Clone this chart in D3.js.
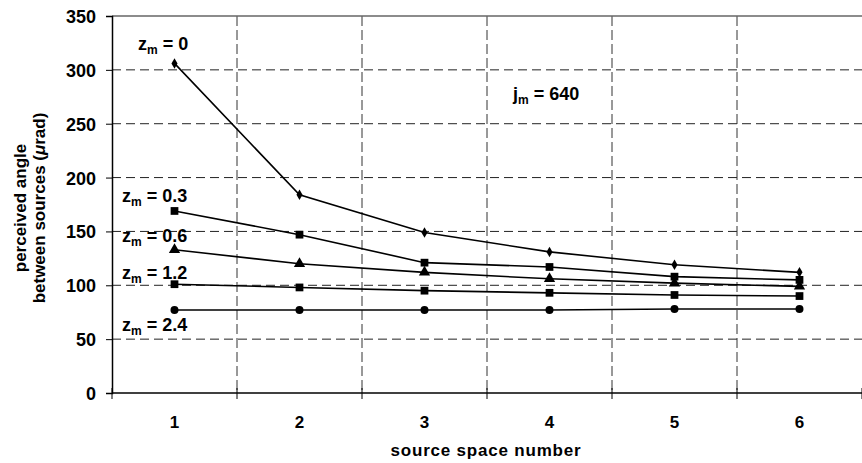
<!DOCTYPE html>
<html>
<head>
<meta charset="utf-8">
<script src="https://cdn.jsdelivr.net/npm/d3@7"></script>
<style>
  body { margin: 0; background: #fff; }
  text { font-family: "Liberation Sans", Arial, sans-serif; font-weight: bold; fill: #000; }
</style>
</head>
<body>
<svg id="chart" width="862" height="463"></svg>
<script>
// source space number categories
let spaces = [1, 2, 3, 4, 5, 6];
let yTicks = [0, 50, 100, 150, 200, 250, 300, 350];

// perceived angle (μrad) per z_m
let z0   = [306, 184, 149, 131, 119, 112];
let z03  = [169, 147, 121, 117, 108, 105];
let z06  = [133, 120, 112, 106, 102,  99];
let z12  = [101,  98,  95,  93,  91,  90];
let z24  = [ 77,  77,  77,  77,  78,  78];

let seriesNames = ["0", "0.3", "0.6", "1.2", "2.4"];
let seriesVals  = [z0, z03, z06, z12, z24];
let seriesMark  = ["diamond", "square", "triangle", "square", "circle"];

let chart = d3.select("#chart");
let plotL = 112, plotR = 862, plotT = 16, plotB = 393;

let xScale = d3.scaleBand()
    .domain(spaces)
    .range([plotL, plotR]);

let yScale = d3.scaleLinear()
    .domain([0, 350])
    .range([plotB, plotT]);

// horizontal grid
chart.append("g")
    .selectAll("line")
    .data(yTicks.filter(d => d > 0 && d < 350)).enter()
    .append("line")
        .attr("x1", plotL).attr("x2", plotR)
        .attr("y1", d => yScale(d)).attr("y2", d => yScale(d))
        .attr("stroke", "#222")
        .attr("stroke-dasharray", "9,5");

// vertical grid at category boundaries
chart.append("g")
    .selectAll("line")
    .data(spaces.slice(1)).enter()
    .append("line")
        .attr("x1", d => xScale(d)).attr("x2", d => xScale(d))
        .attr("y1", plotT).attr("y2", plotB)
        .attr("stroke", "#333")
        .attr("stroke-dasharray", "10,4");

// top border
chart.append("line")
    .attr("x1", plotL).attr("x2", plotR)
    .attr("y1", yScale(350)).attr("y2", yScale(350))
    .attr("stroke", "#666").attr("stroke-width", 1.5);

// y axis
let yAxis = chart.append("g")
    .attr("transform", "translate(" + plotL + ",0)")
    .call(d3.axisLeft(yScale).tickValues(yTicks).tickSize(6).tickPadding(10));
yAxis.selectAll("text").style("font-size", "18px").attr("dy", "0.36em");
yAxis.select(".domain").attr("stroke-width", 1.5);

// x axis
let xAxis = chart.append("g")
    .attr("transform", "translate(0," + plotB + ")");
xAxis.append("line")
    .attr("x1", plotL).attr("x2", plotR)
    .attr("stroke", "#000").attr("stroke-width", 1.5);
xAxis.selectAll(".tk")
    .data(spaces.concat([7])).enter()
    .append("line")
        .attr("x1", (d, i) => plotL + i * xScale.bandwidth())
        .attr("x2", (d, i) => plotL + i * xScale.bandwidth())
        .attr("y1", -5).attr("y2", 6)
        .attr("stroke", "#000");
xAxis.selectAll(".lbl")
    .data(spaces).enter()
    .append("text")
        .attr("x", d => xScale(d) + xScale.bandwidth() / 2)
        .attr("y", 35)
        .style("font-size", "17px")
        .style("text-anchor", "middle")
        .text(d => d);

// axis titles
chart.append("text")
    .text("source space number")
    .attr("x", (plotL + plotR) / 2 - 1)
    .attr("y", 456)
    .style("text-anchor", "middle")
    .style("font-size", "17px")
    .style("letter-spacing", "0.8px");

let yt = chart.append("text")
    .attr("transform", "translate(26,208) rotate(-90)")
    .style("text-anchor", "middle")
    .style("font-size", "17px");
yt.append("tspan").attr("x", 0).attr("dy", 0).text("perceived angle");
yt.append("tspan").attr("x", 0).attr("dy", 19).text("between sources (");
yt.append("tspan").style("font-style", "italic").text("μ");
yt.append("tspan").text("rad)");

// lines and markers
let line = d3.line()
    .x((d, i) => xScale(spaces[i]) + xScale.bandwidth() / 2)
    .y(d => yScale(d));

let symbolOf = {
    diamond: d3.symbol().type(d3.symbolDiamond).size(32),
    square: d3.symbol().type(d3.symbolSquare).size(60),
    triangle: d3.symbol().type(d3.symbolTriangle).size(55),
    circle: d3.symbol().type(d3.symbolCircle).size(50)
};

seriesVals.forEach((vals, s) => {
    chart.append("path")
        .datum(vals)
        .attr("d", line)
        .attr("fill", "none")
        .attr("stroke", "#000")
        .attr("stroke-width", 1.6);
    chart.selectAll(".m" + s)
        .data(vals).enter()
        .append("path")
            .attr("transform", (d, i) => "translate(" + (xScale(spaces[i]) + xScale.bandwidth() / 2) + "," + yScale(d) + ")")
            .attr("d", symbolOf[seriesMark[s]])
            .attr("fill", "#000");
});

// series labels
let labelPos = [[138, 50], [122, 202], [122, 242], [122, 279], [122, 331]];
function zLabel(x, y, base, sub, value) {
    let t = chart.append("text")
        .attr("x", x).attr("y", y)
        .style("font-size", "18px");
    t.append("tspan").text(base);
    t.append("tspan").attr("dy", 4).style("font-size", "12px").text(sub);
    t.append("tspan").attr("dy", -4).text(" = " + value);
}
seriesNames.forEach((n, i) => zLabel(labelPos[i][0], labelPos[i][1], "z", "m", n));
zLabel(513, 100, "j", "m", "640");
</script>
</body>
</html>
